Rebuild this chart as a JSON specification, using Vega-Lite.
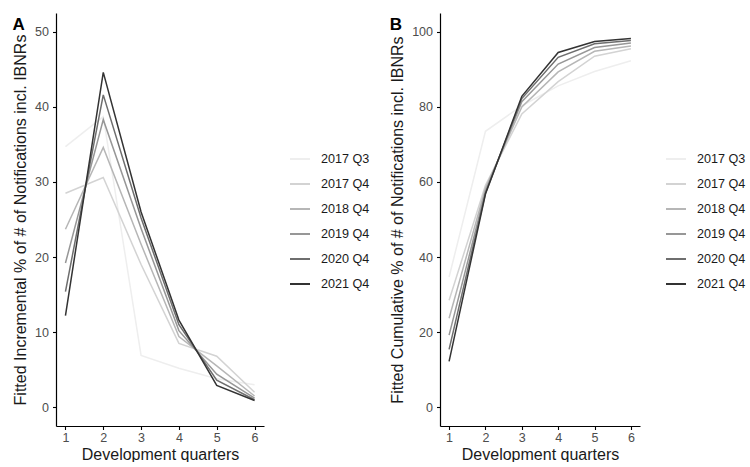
{
  "$schema": "https://vega.github.io/schema/vega-lite/v6.json",
  "padding": {"left": 12, "top": 13, "right": 0, "bottom": 0},
  "spacing": 19,
  "config": {
    "font": "Liberation Sans",
    "view": {"stroke": null},
    "axis": {
      "grid": false,
      "domainColor": "#000000",
      "domainWidth": 1.2,
      "tickColor": "#000000",
      "tickWidth": 1.1,
      "tickSize": 3.5,
      "labelFont": "Liberation Sans",
      "labelFontSize": 12.5,
      "labelColor": "#4d4d4d",
      "labelPadding": 4,
      "titleFont": "Liberation Sans",
      "titleFontSize": 16,
      "titleFontWeight": "normal",
      "titleColor": "#1a1a1a"
    },
    "axisY": {"titlePadding": 6},
    "axisX": {"labelPadding": 2, "titlePadding": 2},
    "legend": {
      "labelFont": "Liberation Sans",
      "labelFontSize": 12.6,
      "labelColor": "#1a1a1a",
      "symbolType": "stroke",
      "symbolSize": 400,
      "symbolStrokeWidth": 2,
      "rowPadding": 7,
      "labelOffset": 10
    },
    "title": {"font": "Liberation Sans", "fontSize": 17, "fontWeight": "bold", "color": "#000000"}
  },
  "datasets": {
    "inc": [
      {"q": 1, "cohort": "2017 Q3", "v": 34.7}, {"q": 2, "cohort": "2017 Q3", "v": 38.7}, {"q": 3, "cohort": "2017 Q3", "v": 6.9}, {"q": 4, "cohort": "2017 Q3", "v": 5.2}, {"q": 5, "cohort": "2017 Q3", "v": 3.8}, {"q": 6, "cohort": "2017 Q3", "v": 3.0},
      {"q": 1, "cohort": "2017 Q4", "v": 28.5}, {"q": 2, "cohort": "2017 Q4", "v": 30.6}, {"q": 3, "cohort": "2017 Q4", "v": 19.0}, {"q": 4, "cohort": "2017 Q4", "v": 8.5}, {"q": 5, "cohort": "2017 Q4", "v": 6.8}, {"q": 6, "cohort": "2017 Q4", "v": 2.0},
      {"q": 1, "cohort": "2018 Q4", "v": 23.7}, {"q": 2, "cohort": "2018 Q4", "v": 34.6}, {"q": 3, "cohort": "2018 Q4", "v": 21.7}, {"q": 4, "cohort": "2018 Q4", "v": 9.4}, {"q": 5, "cohort": "2018 Q4", "v": 5.5}, {"q": 6, "cohort": "2018 Q4", "v": 1.5},
      {"q": 1, "cohort": "2019 Q4", "v": 19.2}, {"q": 2, "cohort": "2019 Q4", "v": 38.3}, {"q": 3, "cohort": "2019 Q4", "v": 23.8}, {"q": 4, "cohort": "2019 Q4", "v": 10.2}, {"q": 5, "cohort": "2019 Q4", "v": 4.4}, {"q": 6, "cohort": "2019 Q4", "v": 1.2},
      {"q": 1, "cohort": "2020 Q4", "v": 15.4}, {"q": 2, "cohort": "2020 Q4", "v": 41.6}, {"q": 3, "cohort": "2020 Q4", "v": 25.2}, {"q": 4, "cohort": "2020 Q4", "v": 11.0}, {"q": 5, "cohort": "2020 Q4", "v": 3.6}, {"q": 6, "cohort": "2020 Q4", "v": 1.0},
      {"q": 1, "cohort": "2021 Q4", "v": 12.2}, {"q": 2, "cohort": "2021 Q4", "v": 44.6}, {"q": 3, "cohort": "2021 Q4", "v": 26.0}, {"q": 4, "cohort": "2021 Q4", "v": 11.6}, {"q": 5, "cohort": "2021 Q4", "v": 2.9}, {"q": 6, "cohort": "2021 Q4", "v": 0.9}
    ],
    "cum": [
      {"q": 1, "cohort": "2017 Q3", "v": 34.7}, {"q": 2, "cohort": "2017 Q3", "v": 73.5}, {"q": 3, "cohort": "2017 Q3", "v": 80.3}, {"q": 4, "cohort": "2017 Q3", "v": 85.6}, {"q": 5, "cohort": "2017 Q3", "v": 89.4}, {"q": 6, "cohort": "2017 Q3", "v": 92.3},
      {"q": 1, "cohort": "2017 Q4", "v": 28.5}, {"q": 2, "cohort": "2017 Q4", "v": 59.1}, {"q": 3, "cohort": "2017 Q4", "v": 78.1}, {"q": 4, "cohort": "2017 Q4", "v": 86.7}, {"q": 5, "cohort": "2017 Q4", "v": 93.5}, {"q": 6, "cohort": "2017 Q4", "v": 95.5},
      {"q": 1, "cohort": "2018 Q4", "v": 23.7}, {"q": 2, "cohort": "2018 Q4", "v": 58.3}, {"q": 3, "cohort": "2018 Q4", "v": 80.0}, {"q": 4, "cohort": "2018 Q4", "v": 89.3}, {"q": 5, "cohort": "2018 Q4", "v": 94.8}, {"q": 6, "cohort": "2018 Q4", "v": 96.2},
      {"q": 1, "cohort": "2019 Q4", "v": 19.2}, {"q": 2, "cohort": "2019 Q4", "v": 57.5}, {"q": 3, "cohort": "2019 Q4", "v": 81.4}, {"q": 4, "cohort": "2019 Q4", "v": 91.4}, {"q": 5, "cohort": "2019 Q4", "v": 95.8}, {"q": 6, "cohort": "2019 Q4", "v": 97.0},
      {"q": 1, "cohort": "2020 Q4", "v": 15.4}, {"q": 2, "cohort": "2020 Q4", "v": 57.0}, {"q": 3, "cohort": "2020 Q4", "v": 82.2}, {"q": 4, "cohort": "2020 Q4", "v": 93.2}, {"q": 5, "cohort": "2020 Q4", "v": 96.8}, {"q": 6, "cohort": "2020 Q4", "v": 97.7},
      {"q": 1, "cohort": "2021 Q4", "v": 12.2}, {"q": 2, "cohort": "2021 Q4", "v": 56.8}, {"q": 3, "cohort": "2021 Q4", "v": 82.8}, {"q": 4, "cohort": "2021 Q4", "v": 94.5}, {"q": 5, "cohort": "2021 Q4", "v": 97.4}, {"q": 6, "cohort": "2021 Q4", "v": 98.2}
    ]
  },
  "hconcat": [
    {
      "width": 208,
      "height": 413,
      "title": {"text": "A", "anchor": "start", "frame": "bounds", "baseline": "top", "offset": -21},
      "data": {"name": "inc"},
      "mark": {"type": "line", "strokeWidth": 1.5},
      "encoding": {
        "x": {"field": "q", "type": "quantitative", "scale": {"domain": [0.75, 6.25], "nice": false, "zero": false}, "axis": {"values": [1, 2, 3, 4, 5, 6], "title": "Development quarters"}},
        "y": {"field": "v", "type": "quantitative", "scale": {"domain": [-2.5, 52.5], "nice": false}, "axis": {"values": [0, 10, 20, 30, 40, 50], "title": "Fitted Incremental % of # of Notifications incl. IBNRs"}},
        "color": {"field": "cohort", "type": "nominal", "scale": {"domain": ["2017 Q3", "2017 Q4", "2018 Q4", "2019 Q4", "2020 Q4", "2021 Q4"], "range": ["#eeeeee", "#d3d3d3", "#b6b6b6", "#979797", "#6e6e6e", "#333333"]}, "legend": {"title": null, "orient": "none", "legendX": 233, "legendY": 135}}
      }
    },
    {
      "width": 200,
      "height": 413,
      "title": {"text": "B", "anchor": "start", "frame": "bounds", "baseline": "top", "offset": -21},
      "data": {"name": "cum"},
      "mark": {"type": "line", "strokeWidth": 1.5},
      "encoding": {
        "x": {"field": "q", "type": "quantitative", "scale": {"domain": [0.75, 6.25], "nice": false, "zero": false}, "axis": {"values": [1, 2, 3, 4, 5, 6], "title": "Development quarters"}},
        "y": {"field": "v", "type": "quantitative", "scale": {"domain": [-5, 105], "nice": false}, "axis": {"values": [0, 20, 40, 60, 80, 100], "title": "Fitted Cumulative % of # of Notifications incl. IBNRs"}},
        "color": {"field": "cohort", "type": "nominal", "scale": {"domain": ["2017 Q3", "2017 Q4", "2018 Q4", "2019 Q4", "2020 Q4", "2021 Q4"], "range": ["#eeeeee", "#d3d3d3", "#b6b6b6", "#979797", "#6e6e6e", "#333333"]}, "legend": {"title": null, "orient": "none", "legendX": 225, "legendY": 135}}
      }
    }
  ],
  "resolve": {"scale": {"color": "independent", "y": "independent"}, "legend": {"color": "independent"}}
}
